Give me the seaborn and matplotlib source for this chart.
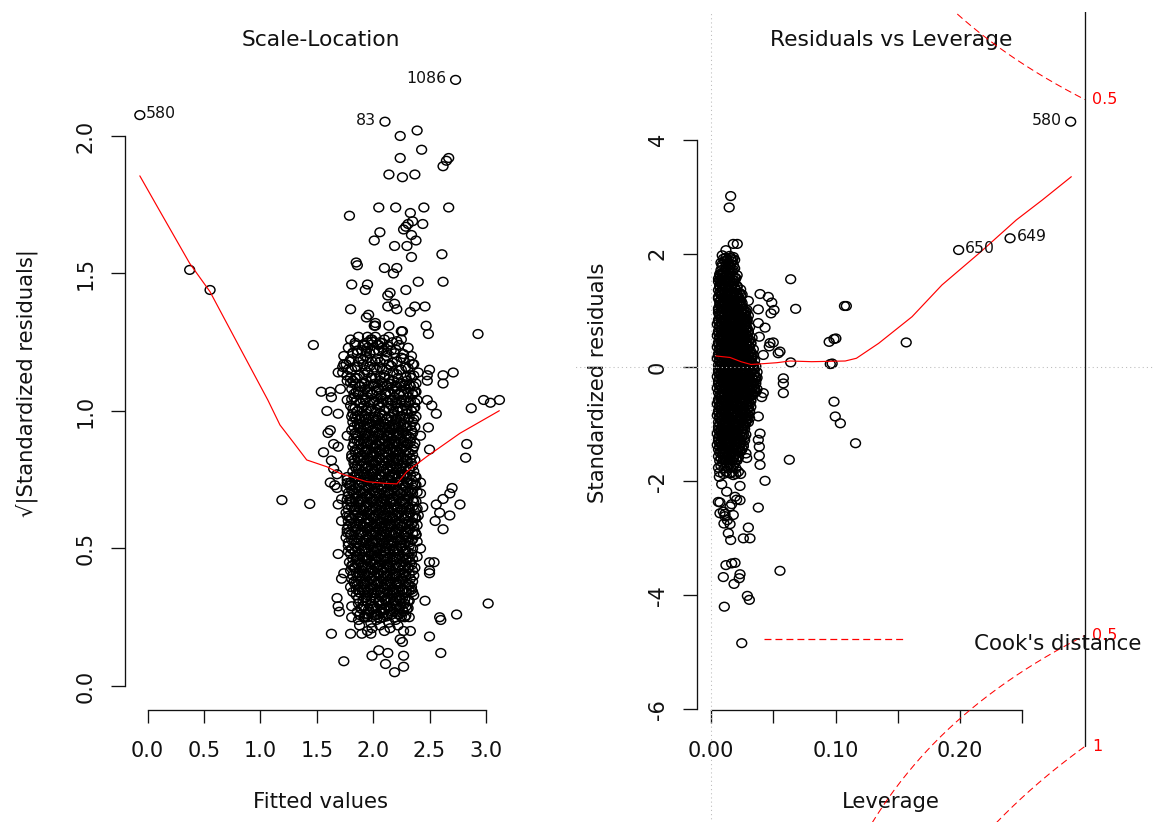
import numpy as np
import matplotlib
matplotlib.use("Agg")
import matplotlib.pyplot as plt
from matplotlib.path import Path
from matplotlib.markers import MarkerStyle
from matplotlib.transforms import Affine2D, Bbox, TransformedBbox
import seaborn as sns

# ---------------- Scale-Location panel data ----------------
# dense middle of the cloud: (fitted value, sqrt|standardized residual|)
left_core = [
    (1.88,.22),(1.95,.20),(1.99,.21),(2.06,.22),(2.10,.20),(2.15,.21),(2.22,.22),(2.27,.20),
    (1.87,.24),(1.92,.25),(1.98,.23),(2.03,.24),(2.09,.25),(2.14,.23),(2.20,.24),(2.28,.25),
    (1.86,.27),(1.90,.28),(1.93,.26),(1.97,.27),(2.00,.28),(2.04,.26),(2.07,.27),(2.10,.28),(2.13,.26),(2.17,.27),(2.20,.28),(2.23,.26),(2.27,.27),(2.30,.28),
    (1.87,.30),(1.91,.29),(1.94,.31),(1.98,.30),(2.01,.29),(2.05,.31),(2.08,.30),(2.11,.31),(2.15,.29),(2.18,.30),(2.21,.31),(2.24,.29),(2.28,.30),(2.31,.31),
    (1.85,.33),(1.88,.34),(1.92,.32),(1.95,.33),(1.99,.34),(2.02,.32),(2.06,.33),(2.09,.34),(2.12,.32),(2.16,.33),(2.19,.34),(2.23,.33),(2.26,.32),(2.30,.34),
    (1.80,.36),(1.84,.37),(1.87,.35),(1.90,.36),(1.93,.37),(1.96,.35),(2.00,.36),(2.03,.37),(2.06,.35),(2.09,.36),(2.12,.37),(2.15,.36),(2.18,.35),(2.21,.37),(2.24,.36),(2.27,.35),(2.31,.37),(2.34,.36),
    (1.81,.39),(1.83,.38),(1.86,.40),(1.89,.39),(1.92,.38),(1.95,.40),(1.98,.39),(2.01,.40),(2.04,.38),(2.08,.39),(2.11,.40),(2.14,.38),(2.17,.39),(2.20,.40),(2.23,.38),(2.26,.39),(2.29,.40),(2.33,.39),
    (1.80,.42),(1.83,.43),(1.87,.41),(1.90,.42),(1.94,.43),(1.97,.41),(2.00,.42),(2.03,.43),(2.05,.41),(2.08,.42),(2.12,.43),(2.15,.42),(2.19,.41),(2.22,.43),(2.25,.42),(2.28,.41),(2.31,.43),(2.35,.42),
    (1.79,.45),(1.82,.44),(1.85,.46),(1.88,.45),(1.91,.44),(1.95,.46),(1.98,.45),(2.02,.46),(2.05,.44),(2.07,.45),(2.10,.46),(2.13,.44),(2.16,.45),(2.20,.46),(2.23,.44),(2.27,.45),(2.30,.46),(2.33,.45),
    (1.80,.48),(1.84,.49),(1.86,.47),(1.89,.48),(1.93,.49),(1.96,.47),(1.99,.48),(2.01,.49),(2.04,.47),(2.07,.48),(2.11,.49),(2.14,.48),(2.17,.47),(2.19,.49),(2.22,.48),(2.26,.47),(2.29,.49),(2.34,.48),
    (1.78,.51),(1.81,.50),(1.85,.52),(1.88,.51),(1.92,.50),(1.94,.52),(1.97,.51),(2.00,.52),(2.03,.50),(2.06,.51),(2.09,.52),(2.12,.50),(2.16,.51),(2.18,.52),(2.21,.50),(2.25,.51),(2.28,.52),(2.32,.51),
    (1.76,.54),(1.80,.55),(1.83,.53),(1.86,.54),(1.89,.55),(1.92,.53),(1.96,.54),(1.99,.55),(2.02,.53),(2.05,.54),(2.08,.55),(2.11,.54),(2.14,.53),(2.18,.55),(2.21,.54),(2.24,.53),(2.27,.55),(2.30,.54),(2.34,.53),(2.38,.55),
    (1.77,.57),(1.79,.56),(1.82,.58),(1.85,.57),(1.89,.56),(1.93,.58),(1.95,.57),(1.98,.58),(2.01,.56),(2.04,.57),(2.07,.58),(2.10,.56),(2.13,.57),(2.16,.58),(2.19,.56),(2.23,.57),(2.26,.58),(2.29,.56),(2.32,.57),(2.36,.58),
    (1.78,.60),(1.81,.61),(1.84,.59),(1.87,.60),(1.90,.61),(1.94,.59),(1.97,.60),(2.00,.61),(2.03,.59),(2.06,.60),(2.09,.61),(2.12,.60),(2.15,.59),(2.17,.61),(2.20,.60),(2.24,.59),(2.27,.61),(2.31,.60),(2.34,.59),(2.37,.61),
    (1.76,.63),(1.79,.62),(1.83,.64),(1.86,.63),(1.89,.62),(1.92,.64),(1.95,.63),(1.98,.64),(2.01,.62),(2.04,.63),(2.07,.64),(2.10,.62),(2.14,.63),(2.17,.64),(2.20,.62),(2.23,.63),(2.26,.64),(2.29,.62),(2.33,.63),(2.38,.64),
    (1.77,.66),(1.81,.67),(1.84,.65),(1.87,.66),(1.90,.67),(1.93,.65),(1.96,.66),(1.99,.67),(2.02,.65),(2.05,.66),(2.08,.67),(2.11,.66),(2.13,.65),(2.16,.67),(2.19,.66),(2.22,.65),(2.25,.67),(2.28,.66),(2.32,.65),(2.36,.67),
    (1.78,.69),(1.80,.68),(1.83,.70),(1.86,.69),(1.89,.68),(1.91,.70),(1.94,.69),(1.97,.70),(2.00,.68),(2.03,.69),(2.06,.70),(2.09,.68),(2.12,.69),(2.15,.70),(2.18,.68),(2.21,.69),(2.24,.70),(2.28,.68),(2.31,.69),(2.35,.70),
    (1.76,.72),(1.79,.73),(1.82,.71),(1.85,.72),(1.88,.73),(1.92,.71),(1.95,.72),(1.98,.73),(2.01,.71),(2.04,.72),(2.07,.73),(2.10,.72),(2.13,.71),(2.16,.73),(2.19,.72),(2.22,.71),(2.26,.73),(2.29,.72),(2.33,.71),(2.37,.73),
    (1.77,.75),(1.80,.74),(1.84,.76),(1.87,.75),(1.90,.74),(1.93,.76),(1.96,.75),(1.99,.76),(2.02,.74),(2.05,.75),(2.08,.76),(2.11,.74),(2.14,.75),(2.17,.76),(2.21,.74),(2.24,.75),(2.27,.76),(2.30,.74),(2.34,.75),(2.38,.76),
    (1.82,.78),(1.85,.79),(1.88,.77),(1.91,.78),(1.94,.79),(1.97,.77),(2.00,.78),(2.03,.79),(2.06,.77),(2.09,.78),(2.12,.79),(2.15,.78),(2.18,.77),(2.21,.79),(2.25,.78),(2.28,.77),(2.32,.79),(2.36,.78),
    (1.83,.81),(1.86,.80),(1.89,.82),(1.92,.81),(1.95,.80),(1.98,.82),(2.01,.81),(2.04,.82),(2.07,.80),(2.10,.81),(2.13,.82),(2.16,.80),(2.19,.81),(2.22,.82),(2.24,.80),(2.27,.81),(2.30,.82),(2.34,.81),
    (1.81,.84),(1.84,.85),(1.87,.83),(1.90,.84),(1.93,.85),(1.96,.83),(1.99,.84),(2.02,.85),(2.05,.83),(2.08,.84),(2.11,.85),(2.14,.84),(2.17,.83),(2.20,.85),(2.23,.84),(2.26,.83),(2.31,.85),(2.35,.84),
    (1.82,.87),(1.86,.86),(1.89,.88),(1.91,.87),(1.94,.86),(1.98,.88),(2.01,.87),(2.03,.88),(2.06,.86),(2.10,.87),(2.13,.88),(2.15,.86),(2.18,.87),(2.22,.88),(2.25,.86),(2.28,.87),(2.31,.88),(2.36,.87),
    (1.83,.90),(1.85,.91),(1.88,.89),(1.92,.90),(1.95,.91),(1.97,.89),(2.00,.90),(2.04,.91),(2.07,.89),(2.09,.90),(2.12,.91),(2.16,.90),(2.19,.89),(2.21,.91),(2.24,.90),(2.27,.89),(2.30,.91),(2.33,.90),
    (1.81,.93),(1.84,.92),(1.87,.94),(1.90,.93),(1.93,.92),(1.96,.94),(1.99,.93),(2.02,.94),(2.05,.92),(2.08,.93),(2.11,.94),(2.14,.92),(2.17,.93),(2.20,.94),(2.23,.92),(2.26,.93),(2.29,.94),(2.34,.93),
    (1.82,.96),(1.85,.97),(1.88,.95),(1.91,.96),(1.94,.97),(1.97,.95),(2.00,.96),(2.03,.97),(2.06,.95),(2.09,.96),(2.12,.97),(2.15,.96),(2.18,.95),(2.21,.97),(2.24,.96),(2.27,.95),(2.31,.97),(2.35,.96),
    (1.82,.99),(1.86,1.00),(1.90,.98),(1.94,.99),(1.98,1.00),(2.02,.98),(2.06,.99),(2.10,1.00),(2.14,.98),(2.18,.99),(2.22,1.00),(2.26,.98),(2.30,.99),(2.34,1.00),(2.38,.98),
    (1.80,1.02),(1.84,1.01),(1.88,1.03),(1.92,1.02),(1.96,1.01),(2.00,1.03),(2.04,1.02),(2.08,1.03),(2.12,1.01),(2.16,1.02),(2.20,1.03),(2.24,1.01),(2.28,1.02),(2.32,1.03),(2.36,1.01),
    (1.83,1.05),(1.87,1.06),(1.91,1.04),(1.95,1.05),(1.99,1.06),(2.03,1.04),(2.07,1.05),(2.11,1.06),(2.15,1.04),(2.19,1.05),(2.23,1.06),(2.27,1.04),(2.31,1.05),(2.35,1.06),(2.39,1.04),
    (1.81,1.08),(1.85,1.07),(1.89,1.09),(1.93,1.08),(1.97,1.07),(2.01,1.09),(2.05,1.08),(2.09,1.09),(2.13,1.07),(2.17,1.08),(2.21,1.09),(2.25,1.07),(2.29,1.08),(2.33,1.09),(2.37,1.07),
    (1.82,1.11),(1.86,1.12),(1.90,1.10),(1.94,1.11),(1.98,1.12),(2.02,1.10),(2.06,1.11),(2.10,1.12),(2.14,1.10),(2.18,1.11),(2.22,1.12),(2.26,1.10),(2.30,1.11),(2.34,1.12),(2.38,1.10),
    (1.73,1.14),(1.81,1.15),(1.88,1.13),(1.95,1.14),(2.03,1.15),(2.10,1.13),(2.18,1.14),(2.25,1.15),(2.33,1.13),(2.40,1.14),
    (1.76,1.17),(1.79,1.18),(1.84,1.16),(1.91,1.17),(1.99,1.18),(2.06,1.16),(2.14,1.17),(2.21,1.18),(2.29,1.16),(2.36,1.17),
    (1.74,1.20),(1.82,1.21),(1.89,1.19),(1.93,1.20),(1.97,1.21),(2.04,1.19),(2.12,1.20),(2.19,1.21),(2.27,1.19),(2.34,1.20),
    (1.78,1.23),(1.86,1.22),(1.93,1.24),(1.95,1.23),(2.01,1.22),(2.05,1.24),(2.08,1.23),(2.16,1.22),(2.23,1.24),(2.31,1.23),
    (1.80,1.26),(1.87,1.27),(1.95,1.25),(1.98,1.26),(2.02,1.27),(2.06,1.25),(2.10,1.26),(2.14,1.27),(2.17,1.25),(2.25,1.26),
]

# more observations packed between the rows above
left_fill = [
    (1.88,.258),(1.92,.249),(1.95,.262),(1.99,.251),(2.02,.257),(2.06,.246),(2.09,.264),(2.12,.253),(2.16,.259),(2.19,.248),(2.22,.261),(2.25,.252),(2.29,.256),(2.32,.250),
    (1.89,.282),(1.92,.291),(1.96,.279),(1.99,.288),(2.03,.283),(2.06,.294),(2.10,.277),(2.13,.286),(2.16,.281),(2.20,.292),(2.23,.284),(2.26,.278),(2.29,.289),(2.31,.283),
    (1.87,.318),(1.91,.309),(1.94,.322),(1.98,.311),(2.01,.317),(2.05,.306),(2.08,.324),(2.11,.313),(2.15,.319),(2.18,.308),(2.21,.321),(2.24,.312),(2.28,.316),(2.32,.310),
    (1.82,.342),(1.85,.351),(1.88,.339),(1.92,.348),(1.95,.343),(1.98,.354),(2.01,.337),(2.04,.346),(2.07,.341),(2.10,.352),(2.13,.344),(2.17,.338),(2.20,.349),(2.23,.343),(2.26,.350),(2.29,.340),(2.32,.347),(2.35,.342),
    (1.83,.378),(1.86,.369),(1.89,.382),(1.91,.371),(1.95,.377),(1.98,.366),(2.01,.384),(2.04,.373),(2.07,.379),(2.10,.368),(2.13,.381),(2.16,.372),(2.20,.376),(2.23,.370),(2.26,.383),(2.29,.374),(2.32,.367),(2.35,.380),
    (1.82,.402),(1.85,.411),(1.88,.399),(1.92,.408),(1.95,.403),(1.98,.414),(2.01,.397),(2.04,.406),(2.07,.401),(2.10,.412),(2.13,.404),(2.17,.398),(2.20,.409),(2.23,.403),(2.26,.410),(2.29,.400),(2.32,.407),(2.36,.402),
    (1.81,.438),(1.84,.429),(1.87,.442),(1.90,.431),(1.93,.437),(1.96,.426),(2.00,.444),(2.03,.433),(2.06,.439),(2.09,.428),(2.12,.441),(2.15,.432),(2.18,.436),(2.22,.430),(2.25,.443),(2.28,.434),(2.31,.427),(2.34,.440),
    (1.82,.462),(1.85,.471),(1.88,.459),(1.91,.468),(1.95,.463),(1.98,.474),(2.01,.457),(2.04,.466),(2.07,.461),(2.10,.472),(2.13,.464),(2.17,.458),(2.20,.469),(2.23,.463),(2.26,.470),(2.29,.460),(2.32,.467),(2.35,.462),
    (1.81,.498),(1.84,.489),(1.87,.502),(1.90,.491),(1.93,.497),(1.96,.486),(2.00,.504),(2.03,.493),(2.06,.499),(2.09,.488),(2.12,.501),(2.15,.492),(2.18,.496),(2.22,.490),(2.25,.503),(2.28,.494),(2.31,.487),(2.35,.500),
    (1.78,.522),(1.81,.531),(1.85,.519),(1.88,.528),(1.91,.523),(1.94,.534),(1.97,.517),(2.00,.526),(2.03,.521),(2.07,.532),(2.10,.524),(2.13,.518),(2.16,.529),(2.19,.523),(2.22,.530),(2.25,.520),(2.29,.527),(2.32,.522),(2.35,.533),(2.39,.525),
    (1.77,.558),(1.80,.549),(1.84,.562),(1.87,.551),(1.90,.557),(1.94,.546),(1.97,.564),(2.00,.553),(2.03,.559),(2.06,.548),(2.09,.561),(2.12,.552),(2.15,.556),(2.18,.550),(2.22,.563),(2.25,.554),(2.28,.547),(2.31,.560),(2.35,.555),(2.38,.551),
    (1.78,.582),(1.81,.591),(1.85,.579),(1.88,.588),(1.91,.583),(1.94,.594),(1.97,.577),(2.00,.586),(2.03,.581),(2.07,.592),(2.10,.584),(2.13,.578),(2.16,.589),(2.19,.583),(2.22,.590),(2.25,.580),(2.29,.587),(2.32,.582),(2.35,.593),(2.39,.585),
    (1.77,.618),(1.80,.609),(1.84,.622),(1.87,.611),(1.90,.617),(1.94,.606),(1.97,.624),(2.00,.613),(2.03,.619),(2.06,.608),(2.09,.621),(2.12,.612),(2.15,.616),(2.18,.610),(2.22,.623),(2.25,.614),(2.28,.607),(2.31,.620),(2.35,.615),(2.38,.611),
    (1.78,.642),(1.81,.651),(1.85,.639),(1.88,.648),(1.91,.643),(1.94,.654),(1.97,.637),(2.00,.646),(2.03,.641),(2.07,.652),(2.10,.644),(2.13,.638),(2.16,.649),(2.19,.643),(2.22,.650),(2.25,.640),(2.29,.647),(2.32,.642),(2.35,.653),(2.39,.645),
    (1.77,.678),(1.80,.669),(1.84,.682),(1.87,.671),(1.90,.677),(1.94,.666),(1.97,.684),(2.00,.673),(2.03,.679),(2.06,.668),(2.09,.681),(2.12,.672),(2.15,.676),(2.18,.670),(2.22,.683),(2.25,.674),(2.28,.667),(2.31,.680),(2.35,.675),(2.38,.671),
    (1.78,.702),(1.81,.711),(1.85,.699),(1.88,.708),(1.91,.703),(1.94,.714),(1.97,.697),(2.00,.706),(2.03,.701),(2.07,.712),(2.10,.704),(2.13,.698),(2.16,.709),(2.19,.703),(2.22,.710),(2.25,.700),(2.29,.707),(2.32,.702),(2.35,.713),(2.39,.705),
    (1.77,.738),(1.80,.729),(1.84,.742),(1.87,.731),(1.90,.737),(1.94,.726),(1.97,.744),(2.00,.733),(2.03,.739),(2.06,.728),(2.09,.741),(2.12,.732),(2.15,.736),(2.18,.730),(2.22,.743),(2.25,.734),(2.28,.727),(2.31,.740),(2.35,.735),(2.38,.731),
    (1.83,.762),(1.86,.771),(1.89,.759),(1.92,.768),(1.95,.763),(1.99,.774),(2.02,.757),(2.05,.766),(2.08,.761),(2.11,.772),(2.14,.764),(2.17,.758),(2.20,.769),(2.23,.763),(2.27,.770),(2.30,.760),(2.33,.767),(2.37,.762),
    (1.84,.798),(1.87,.789),(1.90,.802),(1.93,.791),(1.96,.797),(1.99,.786),(2.02,.804),(2.05,.793),(2.08,.799),(2.12,.788),(2.15,.801),(2.18,.792),(2.21,.796),(2.23,.790),(2.26,.803),(2.29,.794),(2.32,.787),(2.35,.800),
    (1.83,.822),(1.86,.831),(1.89,.819),(1.92,.828),(1.95,.823),(1.99,.834),(2.02,.817),(2.05,.826),(2.08,.821),(2.11,.832),(2.14,.824),(2.17,.818),(2.20,.829),(2.23,.823),(2.27,.830),(2.30,.820),(2.33,.827),(2.37,.822),
    (1.84,.858),(1.87,.849),(1.90,.862),(1.93,.851),(1.96,.857),(1.99,.846),(2.02,.864),(2.05,.853),(2.08,.859),(2.12,.848),(2.15,.861),(2.18,.852),(2.21,.856),(2.23,.850),(2.26,.863),(2.29,.854),(2.32,.847),(2.35,.860),
    (1.83,.882),(1.86,.891),(1.89,.879),(1.92,.888),(1.95,.883),(1.99,.894),(2.02,.877),(2.05,.886),(2.08,.881),(2.11,.892),(2.14,.884),(2.17,.878),(2.20,.889),(2.23,.883),(2.27,.890),(2.30,.880),(2.33,.887),(2.37,.882),
    (1.84,.918),(1.87,.909),(1.90,.922),(1.93,.911),(1.96,.917),(1.99,.906),(2.02,.924),(2.05,.913),(2.08,.919),(2.12,.908),(2.15,.921),(2.18,.912),(2.21,.916),(2.23,.910),(2.26,.923),(2.29,.914),(2.32,.907),(2.35,.920),
    (1.83,.942),(1.86,.951),(1.89,.939),(1.92,.948),(1.95,.943),(1.99,.954),(2.02,.937),(2.05,.946),(2.08,.941),(2.11,.952),(2.14,.944),(2.17,.938),(2.20,.949),(2.23,.943),(2.27,.950),(2.30,.940),(2.33,.947),(2.37,.942),
    (1.84,.978),(1.88,.969),(1.92,.982),(1.96,.971),(2.00,.977),(2.04,.966),(2.08,.984),(2.12,.973),(2.16,.979),(2.20,.968),(2.24,.981),(2.28,.972),(2.32,.976),(2.36,.970),(1.86,.983),
    (1.82,1.008),(1.86,.999),(1.90,1.012),(1.94,1.001),(1.98,1.007),(2.02,.996),(2.06,1.014),(2.10,1.003),(2.14,1.009),(2.18,.998),(2.22,1.011),(2.26,1.002),(2.30,1.006),(2.34,1.000),(2.37,1.013),
    (1.85,1.038),(1.89,1.029),(1.93,1.042),(1.97,1.031),(2.01,1.037),(2.05,1.026),(2.09,1.044),(2.13,1.033),(2.17,1.039),(2.21,1.028),(2.25,1.041),(2.29,1.032),(2.33,1.036),(2.37,1.030),(1.81,1.043),
    (1.83,1.062),(1.87,1.071),(1.91,1.059),(1.95,1.068),(1.99,1.063),(2.03,1.074),(2.07,1.057),(2.11,1.066),(2.15,1.061),(2.19,1.072),(2.23,1.064),(2.27,1.058),(2.31,1.069),(2.35,1.063),(2.38,1.070),
    (1.84,1.098),(1.88,1.089),(1.92,1.102),(1.96,1.091),(2.00,1.097),(2.04,1.086),(2.08,1.104),(2.12,1.093),(2.16,1.099),(2.20,1.088),(2.24,1.101),(2.28,1.092),(2.32,1.096),(2.36,1.090),(1.80,1.103),
    (1.77,1.128),(1.84,1.119),(1.92,1.132),(1.99,1.121),(2.06,1.127),(2.14,1.116),(2.21,1.134),(2.29,1.123),(2.36,1.129),(2.02,1.118),
    (1.78,1.152),(1.86,1.161),(1.93,1.149),(2.01,1.158),(2.08,1.153),(2.16,1.164),(2.23,1.147),(2.31,1.156),(1.97,1.162),(2.12,1.151),
    (1.80,1.188),(1.87,1.179),(1.95,1.192),(2.02,1.181),(2.10,1.187),(2.17,1.176),(2.25,1.194),(2.32,1.183),(1.91,1.186),(2.06,1.178),
    (1.82,1.212),(1.90,1.221),(1.97,1.209),(2.05,1.218),(2.12,1.213),(2.20,1.224),(2.27,1.207),(1.94,1.216),(2.09,1.222),
    (1.84,1.248),(1.91,1.239),(1.99,1.252),(2.04,1.241),(2.08,1.247),(2.13,1.236),(2.21,1.254),
]

# sparser observations around the middle of the cloud
left_outer = [
    (0.373,1.513),(0.554,1.44),(1.191,0.676),(1.438,0.662),
    (2.24,2.00),(2.39,2.02),(2.43,1.95),(2.24,1.92),(2.62,1.89),(2.65,1.91),(2.67,1.92),
    (2.14,1.86),(2.26,1.85),(2.37,1.86),(1.79,1.71),(2.05,1.74),(2.20,1.74),(2.33,1.72),
    (2.45,1.74),(2.67,1.74),(2.06,1.65),(2.01,1.62),(2.29,1.67),(2.27,1.66),(2.31,1.68),
    (2.35,1.69),(2.44,1.68),(2.34,1.64),(2.19,1.60),(2.30,1.60),(2.38,1.62),(2.34,1.56),
    (2.61,1.57),(1.85,1.54),(1.86,1.53),(2.10,1.52),(2.21,1.52),(2.18,1.50),(1.81,1.46),
    (1.95,1.46),(1.93,1.44),(2.29,1.44),(2.40,1.47),(2.62,1.47),(2.15,1.43),(2.13,1.42),
    (1.80,1.37),(1.96,1.35),(2.02,1.32),(2.01,1.31),(2.14,1.31),(2.25,1.29),(2.26,1.29),
    (2.13,1.38),(2.21,1.37),(2.19,1.39),(2.37,1.38),(2.46,1.38),(2.33,1.36),(1.95,1.27),
    (2.47,1.31),(2.49,1.28),(2.93,1.28),(1.47,1.24),(2.50,1.15),(2.48,1.13),(2.48,1.11),
    (2.62,1.13),(2.71,1.14),(2.62,1.10),(2.98,1.04),(3.04,1.03),(3.12,1.04),(2.87,1.01),
    (2.83,0.88),(2.82,0.83),(1.54,1.07),(1.62,1.07),(1.63,1.05),(1.56,0.85),(1.63,0.82),
    (1.60,0.92),(1.65,0.88),(2.35,1.17),(1.59,1.00),(1.73,1.16),(1.77,1.11),(1.84,1.24),
    (1.86,1.21),(1.94,1.34),(2.02,1.31),(1.99,1.26),
    (2.48,1.04),(2.52,1.02),(2.56,0.99),(2.49,0.94),(2.42,0.91),(2.50,0.86),
    (2.42,0.70),(2.44,0.65),(2.40,0.62),
    (1.74,1.17),(1.69,1.14),(1.80,1.12),(1.71,1.08),(1.77,1.04),(1.69,0.99),(1.81,0.98),
    (1.62,0.93),(1.77,0.91),(1.69,0.87),(1.81,0.83),(1.65,0.79),(1.77,0.76),(1.62,0.74),
    (1.63,0.19),(1.80,0.19),(1.90,0.19),(1.98,0.19),(1.74,0.09),(1.99,0.11),(2.05,0.13),
    (2.13,0.12),(2.11,0.08),(2.19,0.05),(2.27,0.07),(2.27,0.11),(2.50,0.18),(2.60,0.12),
    (2.59,0.25),(2.60,0.24),(2.74,0.26),(3.02,0.30),(2.46,0.31),(1.68,0.32),(1.69,0.29),
    (1.70,0.27),(1.81,0.29),(1.81,0.25),(1.93,0.25),(1.95,0.25),(2.24,0.17),(2.26,0.16),
    (2.33,0.20),(2.50,0.45),(2.54,0.45),(2.50,0.42),(2.50,0.41),(2.70,0.72),(2.68,0.70),
    (2.62,0.68),(2.56,0.66),(2.59,0.63),(2.68,0.62),(2.55,0.60),(2.62,0.57),(2.77,0.66),
    (2.42,0.74),(2.37,0.56),(2.42,0.50),(2.39,0.47),(2.37,0.43),(2.34,0.35),(2.36,0.33),
    (1.69,0.48),(1.78,0.49),(1.72,0.39),(1.74,0.41),(1.68,0.72),(1.72,0.68),(1.69,0.66),
    (1.72,0.60),(1.66,0.73),(1.68,0.77),
]

# labelled observations
left_id_fit = [-0.069, 2.105, 2.731]
left_id_srs = [2.076, 2.052, 2.204]
left_id_names = ["580", "83", "1086"]
left_id_side = ["right", "left", "left"]

# red smoother
left_smooth_fit = [-0.069, 0.10, 0.373, 0.553, 0.80, 1.066, 1.174, 1.30, 1.411, 1.591,
                   1.707, 1.943, 2.10, 2.21, 2.298, 2.475, 2.770, 3.119]
left_smooth_srs = [1.855, 1.733, 1.537, 1.434, 1.244, 1.040, 0.949, 0.882, 0.822, 0.797,
                   0.773, 0.743, 0.737, 0.735, 0.779, 0.834, 0.919, 1.001]

# ---------------- Residuals vs Leverage panel data ----------------
# dense middle of the cloud: (leverage, standardized residual)
right_core = [
    (.009,1.97),(.012,1.93),(.015,1.96),(.018,1.94),
    (.008,1.84),(.011,1.87),(.014,1.83),(.017,1.86),
    (.009,1.77),(.012,1.73),(.015,1.76),(.019,1.74),
    (.007,1.64),(.010,1.67),(.013,1.63),(.016,1.66),
    (.006,1.56),(.008,1.53),(.011,1.57),(.013,1.54),(.015,1.56),(.018,1.53),(.020,1.57),
    (.007,1.44),(.009,1.47),(.011,1.43),(.014,1.46),(.016,1.44),(.018,1.47),(.021,1.43),
    (.006,1.36),(.008,1.33),(.010,1.37),(.013,1.34),(.015,1.36),(.017,1.33),(.020,1.37),
    (.006,1.24),(.008,1.27),(.010,1.23),(.012,1.26),(.014,1.24),(.016,1.27),(.018,1.23),(.020,1.26),(.022,1.24),(.024,1.27),
    (.007,1.16),(.009,1.13),(.011,1.17),(.013,1.14),(.015,1.16),(.017,1.13),(.019,1.17),(.021,1.14),(.023,1.16),(.025,1.13),
    (.006,1.04),(.008,1.07),(.010,1.03),(.012,1.06),(.014,1.04),(.016,1.07),(.018,1.03),(.020,1.06),(.022,1.04),(.024,1.07),
    (.006,.96),(.007,.93),(.009,.97),(.011,.94),(.013,.96),(.015,.93),(.017,.97),(.019,.94),(.021,.96),(.023,.93),(.025,.97),(.027,.94),(.028,.96),
    (.006,.84),(.008,.87),(.010,.83),(.012,.86),(.014,.84),(.016,.87),(.018,.83),(.020,.86),(.022,.84),(.024,.87),(.026,.83),(.027,.86),(.029,.84),
    (.005,.76),(.007,.73),(.009,.77),(.011,.74),(.013,.76),(.015,.73),(.017,.77),(.019,.74),(.021,.76),(.023,.73),(.025,.77),(.027,.74),(.028,.76),
    (.006,.64),(.008,.67),(.010,.63),(.012,.66),(.014,.64),(.016,.67),(.018,.63),(.020,.66),(.022,.64),(.024,.67),(.026,.63),(.028,.66),(.030,.64),
    (.005,.56),(.007,.53),(.009,.57),(.011,.54),(.013,.56),(.015,.53),(.017,.57),(.019,.54),(.021,.56),(.023,.53),(.025,.57),(.027,.54),(.029,.56),
    (.006,.44),(.008,.47),(.009,.43),(.011,.46),(.013,.44),(.015,.47),(.017,.43),(.019,.46),(.020,.44),(.022,.47),(.024,.43),(.026,.46),(.028,.44),(.030,.47),(.032,.43),
    (.005,.36),(.007,.33),(.009,.37),(.011,.34),(.012,.36),(.014,.33),(.016,.37),(.018,.34),(.020,.36),(.022,.33),(.024,.37),(.025,.34),(.027,.36),(.029,.33),(.031,.37),
    (.006,.24),(.008,.27),(.010,.23),(.012,.26),(.013,.24),(.015,.27),(.017,.23),(.019,.26),(.021,.24),(.023,.27),(.025,.23),(.027,.26),(.029,.24),(.031,.27),(.033,.23),
    (.005,.16),(.007,.13),(.009,.17),(.011,.14),(.013,.16),(.015,.13),(.017,.17),(.019,.14),(.021,.16),(.023,.13),(.025,.17),(.027,.14),(.029,.16),(.031,.13),(.033,.17),
    (.006,.04),(.008,.07),(.010,.03),(.012,.06),(.014,.04),(.016,.07),(.018,.03),(.020,.06),(.022,.04),(.024,.07),(.026,.03),(.028,.06),(.030,.04),(.032,.07),(.034,.03),
    (.006,-.04),(.008,-.07),(.010,-.03),(.012,-.06),(.014,-.04),(.016,-.07),(.018,-.03),(.020,-.06),(.022,-.04),(.024,-.07),(.026,-.03),(.029,-.06),(.031,-.04),(.033,-.07),(.035,-.03),
    (.005,-.16),(.007,-.13),(.009,-.17),(.011,-.14),(.013,-.16),(.016,-.13),(.018,-.17),(.020,-.14),(.022,-.16),(.025,-.13),(.027,-.17),(.029,-.14),(.031,-.16),(.034,-.13),(.036,-.17),
    (.006,-.24),(.008,-.27),(.010,-.23),(.012,-.26),(.015,-.24),(.017,-.27),(.019,-.23),(.021,-.26),(.023,-.24),(.026,-.27),(.028,-.23),(.030,-.26),(.032,-.24),(.034,-.27),(.036,-.23),
    (.005,-.36),(.007,-.33),(.009,-.37),(.012,-.34),(.014,-.36),(.016,-.33),(.018,-.37),(.020,-.34),(.023,-.36),(.025,-.33),(.027,-.37),(.029,-.34),(.031,-.36),(.033,-.33),(.035,-.37),
    (.006,-.44),(.008,-.47),(.010,-.43),(.013,-.46),(.015,-.44),(.017,-.47),(.019,-.43),(.021,-.46),(.024,-.44),(.026,-.47),(.028,-.43),(.030,-.46),(.032,-.44),(.034,-.47),(.036,-.43),
    (.006,-.56),(.008,-.53),(.010,-.57),(.012,-.54),(.015,-.56),(.017,-.53),(.019,-.57),(.021,-.54),(.023,-.56),(.025,-.53),(.027,-.57),(.030,-.54),(.032,-.56),
    (.005,-.64),(.007,-.67),(.009,-.63),(.011,-.66),(.014,-.64),(.016,-.67),(.018,-.63),(.020,-.66),(.022,-.64),(.024,-.67),(.026,-.63),(.029,-.66),(.031,-.64),
    (.006,-.76),(.008,-.73),(.010,-.77),(.012,-.74),(.014,-.76),(.016,-.73),(.019,-.77),(.021,-.74),(.023,-.76),(.025,-.73),(.027,-.77),(.029,-.74),(.031,-.76),
    (.005,-.84),(.007,-.87),(.009,-.83),(.011,-.86),(.013,-.84),(.015,-.87),(.018,-.83),(.020,-.86),(.022,-.84),(.024,-.87),(.026,-.83),(.028,-.86),(.030,-.84),
    (.006,-.96),(.008,-.93),(.010,-.97),(.012,-.94),(.014,-.96),(.016,-.93),(.018,-.97),(.020,-.94),(.022,-.96),(.024,-.93),(.026,-.97),(.028,-.94),(.030,-.96),
    (.006,-1.04),(.008,-1.07),(.010,-1.03),(.012,-1.06),(.014,-1.04),(.016,-1.07),(.018,-1.03),(.020,-1.06),(.022,-1.04),(.025,-1.07),(.027,-1.03),
    (.005,-1.16),(.007,-1.13),(.009,-1.17),(.011,-1.14),(.013,-1.16),(.015,-1.13),(.017,-1.17),(.019,-1.14),(.021,-1.16),(.024,-1.13),(.026,-1.17),
    (.006,-1.24),(.008,-1.27),(.010,-1.23),(.012,-1.26),(.014,-1.24),(.016,-1.27),(.018,-1.23),(.020,-1.26),(.022,-1.24),(.024,-1.27),(.027,-1.23),
    (.005,-1.36),(.007,-1.33),(.009,-1.37),(.011,-1.34),(.013,-1.36),(.015,-1.33),(.017,-1.37),(.019,-1.34),(.021,-1.36),(.023,-1.33),(.026,-1.37),
    (.006,-1.44),(.008,-1.47),(.010,-1.43),(.012,-1.46),(.014,-1.44),(.016,-1.47),(.018,-1.43),(.020,-1.46),(.022,-1.44),(.024,-1.47),(.025,-1.43),
    (.006,-1.56),(.009,-1.53),(.011,-1.57),(.014,-1.54),(.016,-1.56),(.019,-1.53),(.022,-1.57),
    (.007,-1.64),(.009,-1.67),(.012,-1.63),(.014,-1.66),(.017,-1.64),(.019,-1.67),(.021,-1.63),
    (.006,-1.76),(.008,-1.73),(.011,-1.77),(.013,-1.74),(.016,-1.76),(.018,-1.73),(.020,-1.77),
    (.007,-1.84),(.010,-1.87),(.012,-1.83),(.015,-1.86),(.017,-1.84),(.020,-1.87),(.022,-1.83),
]

# more observations packed between the rows above
right_fill = [
    (.010,1.91),(.013,1.88),(.016,1.92),(.019,1.89),
    (.009,1.81),(.012,1.78),(.016,1.82),(.018,1.79),
    (.008,1.71),(.011,1.68),(.014,1.72),(.017,1.69),
    (.007,1.61),(.009,1.58),(.012,1.62),(.014,1.59),(.017,1.61),(.019,1.58),(.021,1.62),
    (.006,1.51),(.008,1.48),(.010,1.52),(.012,1.49),(.015,1.51),(.017,1.48),(.019,1.52),
    (.007,1.41),(.009,1.38),(.012,1.42),(.014,1.39),(.016,1.41),(.019,1.38),(.021,1.42),
    (.007,1.31),(.009,1.28),(.011,1.32),(.013,1.29),(.015,1.31),(.017,1.28),(.019,1.32),(.021,1.29),(.023,1.31),(.025,1.28),
    (.006,1.21),(.008,1.18),(.010,1.22),(.012,1.19),(.014,1.21),(.016,1.18),(.018,1.22),(.020,1.19),(.022,1.21),(.024,1.18),
    (.007,1.11),(.009,1.08),(.011,1.12),(.013,1.09),(.015,1.11),(.017,1.08),(.019,1.12),(.021,1.09),(.023,1.11),(.025,1.08),
    (.006,1.01),(.008,.98),(.010,1.02),(.012,.99),(.014,1.01),(.016,.98),(.018,1.02),(.020,.99),(.022,1.01),(.024,.98),(.026,1.02),(.028,.99),(.029,1.01),
    (.007,.91),(.009,.88),(.011,.92),(.013,.89),(.015,.91),(.017,.88),(.019,.92),(.021,.89),(.023,.91),(.025,.88),(.027,.92),(.028,.89),(.030,.91),
    (.006,.81),(.008,.78),(.010,.82),(.012,.79),(.014,.81),(.016,.78),(.018,.82),(.020,.79),(.022,.81),(.024,.78),(.026,.82),(.028,.79),(.029,.81),
    (.007,.71),(.009,.68),(.011,.72),(.013,.69),(.015,.71),(.017,.68),(.019,.72),(.021,.69),(.023,.71),(.025,.68),(.027,.72),(.029,.69),(.031,.71),
    (.006,.61),(.008,.58),(.010,.62),(.012,.59),(.014,.61),(.016,.58),(.018,.62),(.020,.59),(.022,.61),(.024,.58),(.026,.62),(.028,.59),(.030,.61),
    (.007,.51),(.009,.48),(.010,.52),(.012,.49),(.014,.51),(.016,.48),(.018,.52),(.020,.49),(.021,.51),(.023,.48),(.025,.52),(.027,.49),(.029,.51),(.031,.48),(.033,.52),
    (.006,.41),(.008,.38),(.010,.42),(.012,.39),(.013,.41),(.015,.38),(.017,.42),(.019,.39),(.021,.41),(.023,.38),(.025,.42),(.026,.39),(.028,.41),(.030,.38),(.032,.42),
    (.007,.31),(.009,.28),(.011,.32),(.013,.29),(.014,.31),(.016,.28),(.018,.32),(.020,.29),(.022,.31),(.024,.28),(.026,.32),(.028,.29),(.030,.31),(.032,.28),(.034,.32),
    (.006,.21),(.008,.18),(.010,.22),(.012,.19),(.014,.21),(.016,.18),(.018,.22),(.020,.19),(.022,.21),(.024,.18),(.026,.22),(.028,.19),(.030,.21),(.032,.18),(.034,.22),
    (.007,.11),(.009,.08),(.011,.12),(.013,.09),(.015,.11),(.017,.08),(.019,.12),(.021,.09),(.023,.11),(.025,.08),(.027,.12),(.029,.09),(.031,.11),(.033,.08),(.035,.12),
    (.007,.01),(.009,-.02),(.011,.02),(.013,-.01),(.015,.01),(.017,-.02),(.019,.02),(.021,-.01),(.023,.01),(.025,-.02),(.027,.02),(.030,-.01),(.032,.01),(.034,-.02),(.036,.02),
    (.006,-.09),(.008,-.12),(.010,-.08),(.012,-.11),(.014,-.09),(.017,-.12),(.019,-.08),(.021,-.11),(.023,-.09),(.026,-.12),(.028,-.08),(.030,-.11),(.032,-.09),(.035,-.12),(.037,-.08),
    (.007,-.19),(.009,-.22),(.011,-.18),(.013,-.21),(.016,-.19),(.018,-.22),(.020,-.18),(.022,-.21),(.024,-.19),(.027,-.22),(.029,-.18),(.031,-.21),(.033,-.19),(.035,-.22),(.037,-.18),
    (.006,-.29),(.008,-.32),(.010,-.28),(.013,-.31),(.015,-.29),(.017,-.32),(.019,-.28),(.021,-.31),(.024,-.29),(.026,-.32),(.028,-.28),(.030,-.31),(.032,-.29),(.034,-.32),(.036,-.28),
    (.007,-.39),(.009,-.42),(.011,-.38),(.014,-.41),(.016,-.39),(.018,-.42),(.020,-.38),(.022,-.41),(.025,-.39),(.027,-.42),(.029,-.38),(.031,-.41),(.033,-.39),(.035,-.42),(.037,-.38),
    (.007,-.49),(.009,-.52),(.011,-.48),(.013,-.51),(.016,-.49),(.018,-.52),(.020,-.48),(.022,-.51),(.024,-.49),(.026,-.52),(.028,-.48),(.031,-.51),(.033,-.49),
    (.006,-.59),(.008,-.62),(.010,-.58),(.012,-.61),(.015,-.59),(.017,-.62),(.019,-.58),(.021,-.61),(.023,-.59),(.025,-.62),(.027,-.58),(.030,-.61),(.032,-.59),
    (.007,-.69),(.009,-.72),(.011,-.68),(.013,-.71),(.015,-.69),(.017,-.72),(.020,-.68),(.022,-.71),(.024,-.69),(.026,-.72),(.028,-.68),(.030,-.71),(.032,-.69),
    (.006,-.79),(.008,-.82),(.010,-.78),(.012,-.81),(.014,-.79),(.016,-.82),(.019,-.78),(.021,-.81),(.023,-.79),(.025,-.82),(.027,-.78),(.029,-.81),(.031,-.79),
    (.007,-.89),(.009,-.92),(.011,-.88),(.013,-.91),(.015,-.89),(.017,-.92),(.019,-.88),(.021,-.91),(.023,-.89),(.025,-.92),(.027,-.88),(.029,-.91),(.031,-.89),
    (.007,-.99),(.009,-1.02),(.011,-.98),(.013,-1.01),(.015,-.99),(.017,-1.02),(.019,-.98),(.021,-1.01),(.023,-.99),(.026,-1.02),(.028,-.98),
    (.006,-1.09),(.008,-1.12),(.010,-1.08),(.012,-1.11),(.014,-1.09),(.016,-1.12),(.018,-1.08),(.020,-1.11),(.022,-1.09),(.025,-1.12),(.027,-1.08),
    (.007,-1.19),(.009,-1.22),(.011,-1.18),(.013,-1.21),(.015,-1.19),(.017,-1.22),(.019,-1.18),(.021,-1.21),(.023,-1.19),(.025,-1.22),(.028,-1.18),
    (.006,-1.29),(.008,-1.32),(.010,-1.28),(.012,-1.31),(.014,-1.29),(.016,-1.32),(.018,-1.28),(.020,-1.31),(.022,-1.29),(.024,-1.32),(.027,-1.28),
    (.007,-1.39),(.009,-1.42),(.011,-1.38),(.013,-1.41),(.015,-1.39),(.017,-1.42),(.019,-1.38),(.021,-1.41),(.023,-1.39),(.025,-1.42),(.026,-1.38),
    (.007,-1.49),(.010,-1.52),(.012,-1.48),(.015,-1.51),(.017,-1.49),(.020,-1.52),(.023,-1.48),
    (.008,-1.59),(.010,-1.62),(.013,-1.58),(.015,-1.61),(.018,-1.59),(.020,-1.62),(.022,-1.58),
]

# sparser observations
right_outer = [
    (.0158,3.01),(.0146,2.81),(.0179,2.17),(.0211,2.17),(.012,2.06),(.0126,1.89),(.0174,1.90),
    (.0179,1.71),(.0086,1.65),(.0072,1.54),(.0238,1.37),(.030,1.17),(.0394,1.29),(.046,1.24),
    (.0488,1.14),(.0506,1.01),(.0482,0.95),(.038,1.02),(.064,1.55),(.068,1.03),(.0434,0.70),
    (.038,0.78),(.0388,0.54),(.0474,0.43),(.050,0.44),(.0468,0.37),(.0554,0.28),(.054,0.25),
    (.042,0.22),(.064,0.09),(.0255,0.31),(.0327,0.19),
    (.1072,1.08),(.1087,1.08),(.0949,0.45),(.0988,0.50),(.1003,0.51),(.0973,0.07),(.0958,0.06),
    (.1568,0.44),
    (.0581,-0.19),(.0581,-0.28),(.0581,-0.45),(.042,-0.45),(.0407,-0.52),(.038,-0.86),(.0394,-1.16),
    (.038,-1.27),(.0388,-1.39),(.0281,-1.51),(.0287,-1.59),(.0388,-1.55),(.0394,-1.71),(.0629,-1.62),
    (.0147,-1.71),(.0179,-1.89),(.0238,-1.87),(.0067,-1.92),(.0086,-2.05),(.0126,-2.18),(.0233,-2.08),
    (.0193,-2.27),(.0206,-2.32),(.0434,-1.99),(.0059,-2.36),(.0153,-2.44),(.038,-2.46),(.0099,-2.53),
    (.0179,-2.59),(.0112,-2.61),(.0072,-2.37),(.0166,-2.40),(.0233,-2.33),(.0072,-2.56),(.0112,-2.57),
    (.0104,-2.74),(.0153,-2.75),(.0131,-2.68),(.030,-2.81),(.0139,-2.91),(.0158,-3.03),(.026,-3.00),
    (.0313,-3.00),(.012,-3.47),(.0166,-3.44),(.0193,-3.43),(.0099,-3.68),(.0233,-3.63),(.0227,-3.70),
    (.0185,-3.80),(.0554,-3.57),(.0292,-4.01),(.0308,-4.08),(.0107,-4.20),(.0247,-4.84),
    (.0988,-0.60),(.0998,-0.86),(.1039,-0.98),(.1161,-1.33),
]

right_id_lev = [0.2889, 0.1989, 0.2402]
right_id_res = [4.316, 2.063, 2.269]
right_id_names = ["580", "650", "649"]
right_id_side = ["left", "right", "right"]

right_smooth_lev = [0.004, 0.0153, 0.0241, 0.0321, 0.038, 0.0528, 0.0635, 0.0809, 0.1078,
                    0.1168, 0.1347, 0.1615, 0.1855, 0.2153, 0.2452, 0.2661, 0.2894]
right_smooth_res = [0.202, 0.176, 0.102, 0.053, 0.061, 0.084, 0.114, 0.102, 0.114,
                    0.162, 0.425, 0.892, 1.449, 2.005, 2.590, 2.941, 3.350]

n_coef = 19              # model rank used for the Cook's distance contours
cook_levels = [0.5, 1.0]

# ---------------- styling ----------------
sns.set_style("ticks")
INK = "#111111"
RED = "#FF0000"
plt.rcParams.update({
    "font.family": ["DejaVu Sans"],
    "axes.unicode_minus": False,
    "lines.scale_dashes": False,
    "ytick.alignment": "center",
    "text.color": INK,
    "axes.labelcolor": INK,
    "xtick.color": INK,
    "ytick.color": INK,
    "axes.edgecolor": INK,
})

W, H = 1153, 822
fig = plt.figure(figsize=(W / 100, H / 100), dpi=100)
fig.patch.set_facecolor("white")


def pixel_rect(x0, y0, x1, y1):
    return [x0 / W, 1 - y1 / H, (x1 - x0) / W, (y1 - y0) / H]


ax1 = fig.add_axes(pixel_rect(124.6, 55.8, 516.8, 710))
ax2 = fig.add_axes(pixel_rect(696.6, 55.8, 1085, 710))

# slightly oval open circles
ring = MarkerStyle(Affine2D().scale(1.0, 0.89).transform_path(Path.unit_circle()))


def draw_points(ax, xs, ys):
    sns.scatterplot(x=list(xs), y=list(ys), ax=ax, marker=ring, s=50,
                    facecolor="none", edgecolor="black", linewidth=1.05,
                    legend=False, zorder=2)


def label_ids(ax, xs, ys, names, sides):
    for x, y, name, side in zip(xs, ys, names, sides):
        dx = 4.6 if side == "right" else -6.3
        ax.annotate(name, (x, y), xytext=(dx, 1.1), textcoords="offset points",
                    ha="left" if side == "right" else "right", va="center",
                    fontsize=11.3, color=INK, annotation_clip=False)


# ---- Scale-Location ----
lx, ly = zip(*(left_core + left_fill + left_outer))
draw_points(ax1, list(lx) + left_id_fit, list(ly) + left_id_srs)
sns.lineplot(x=left_smooth_fit, y=left_smooth_srs, ax=ax1, color=RED,
             lw=0.85, sort=False, estimator=None, zorder=3)
label_ids(ax1, left_id_fit, left_id_srs, left_id_names, left_id_side)

ax1.set_xlim(-0.204, 3.274)
ax1.set_ylim(-0.0873, 2.2916)
ax1.set_xticks([0, 0.5, 1, 1.5, 2, 2.5, 3],
               ["0.0", "0.5", "1.0", "1.5", "2.0", "2.5", "3.0"])
ax1.set_yticks([0, 0.5, 1, 1.5, 2], ["0.0", "0.5", "1.0", "1.5", "2.0"])
ax1.spines["bottom"].set_bounds(0, 3)
ax1.spines["left"].set_bounds(0, 2)
ax1.set_title("Scale-Location", fontsize=15.7, pad=7.0, color=INK)
ax1.set_xlabel("Fitted values", fontsize=15.2)
ax1.set_ylabel("\u221a|Standardized residuals|", fontsize=15.2)
ax1.xaxis.set_label_coords(0.5, (710 - 808) / 654.2)
ax1.yaxis.set_label_coords((32.7 - 124.6) / 392.2, 0.5)

# ---- Residuals vs Leverage ----
rx, ry = zip(*(right_core + right_fill + right_outer))
draw_points(ax2, list(rx) + right_id_lev, list(ry) + right_id_res)
sns.lineplot(x=right_smooth_lev, y=right_smooth_res, ax=ax2, color=RED,
             lw=0.85, sort=False, estimator=None, zorder=3)
label_ids(ax2, right_id_lev, right_id_res, right_id_names, right_id_side)

lev_lo, lev_hi = -0.01157, 0.3004
ax2.set_xlim(lev_lo, lev_hi)
ax2.set_ylim(-6.014, 5.473)
ax2.set_xticks([0, 0.05, 0.10, 0.15, 0.20, 0.25], ["0.00", "", "0.10", "", "0.20", ""])
ax2.set_yticks([-6, -4, -2, 0, 2, 4], ["-6", "-4", "-2", "0", "2", "4"])
ax2.spines["bottom"].set_bounds(0, 0.25)
ax2.spines["left"].set_bounds(-6, 4)
ax2.set_title("Residuals vs Leverage", fontsize=15.7, pad=7.0, color=INK)
ax2.set_xlabel("Leverage", fontsize=15.2)
ax2.set_ylabel("Standardized residuals", fontsize=15.2)
ax2.xaxis.set_label_coords(0.5, (710 - 808) / 654.2)
ax2.yaxis.set_label_coords((604 - 696.6) / 388.4, 0.5)

for ax in (ax1, ax2):
    ax.spines["top"].set_visible(False)
    ax.spines["right"].set_visible(False)
    for side in ("left", "bottom"):
        ax.spines[side].set_linewidth(0.95)
    ax.tick_params(axis="x", direction="out", length=9.1, width=0.95, pad=13.2,
                   labelsize=15, bottom=True)
    ax.tick_params(axis="y", direction="out", length=10.1, width=0.95, pad=10.8,
                   labelsize=15, labelrotation=90, left=True)
    ax.xaxis.label.set_va("baseline")
    ax.yaxis.label.set_va("baseline")
    ax.grid(False)

# reference lines and Cook's distance contours reach outside the plot region,
# but stay inside the right-hand figure panel
panel_box = TransformedBbox(Bbox([[573 / W, 0], [1, 1 - 12 / H]]), fig.transFigure)


def panel_clip(artist):
    artist.set_clip_path(None)
    artist.set_clip_box(panel_box)
    artist.set_clip_on(True)


dotted = (0, (0.8, 2.2))
for xs_, ys_ in (([0, 0], [-30, 30]), ([-0.3, 0.6], [0, 0])):
    ln, = ax2.plot(xs_, ys_, color="#BEBEBE", lw=0.75, ls=dotted, zorder=4)
    panel_clip(ln)

dashed = (0, (5.0, 2.9))
hh = np.linspace(0.0005, lev_hi, 400)
for lev in cook_levels:
    contour = np.sqrt(lev * n_coef * (1 - hh) / hh)
    for sgn in (1, -1):
        ln, = ax2.plot(hh, sgn * contour, color=RED, lw=0.75, ls=dashed, zorder=5)
        panel_clip(ln)

ymult = np.sqrt(n_coef * (1 - lev_hi) / lev_hi)
aty = [np.sqrt(lev) * ymult for lev in cook_levels]
axis4, = ax2.plot([lev_hi, lev_hi], [-max(aty), max(aty)], color=INK, lw=0.95, zorder=5)
panel_clip(axis4)

fig.canvas.draw()
for lev, a in zip(cook_levels, aty):
    for y in (a, -a):
        px, py = ax2.transData.transform((lev_hi, y))
        if not panel_box.contains(px, py):
            continue   # this contour label falls off the top of the device
        ax2.annotate(f"{lev:g}", (lev_hi, y), xytext=(5.3, 0.0),
                     textcoords="offset points", ha="left", va="center",
                     fontsize=11.5, color=RED, annotation_clip=False, zorder=6)

# Cook's distance key
ax2.plot([0.0426, 0.157], [-4.759, -4.759], color=RED, lw=0.9, ls=dashed, zorder=5)
ax2.text(0.2112, -4.96, "Cook's distance", fontsize=15.4, ha="left", va="baseline",
         color=INK, clip_on=False, zorder=6)

fig.savefig("out.png", dpi=100, facecolor="white")
